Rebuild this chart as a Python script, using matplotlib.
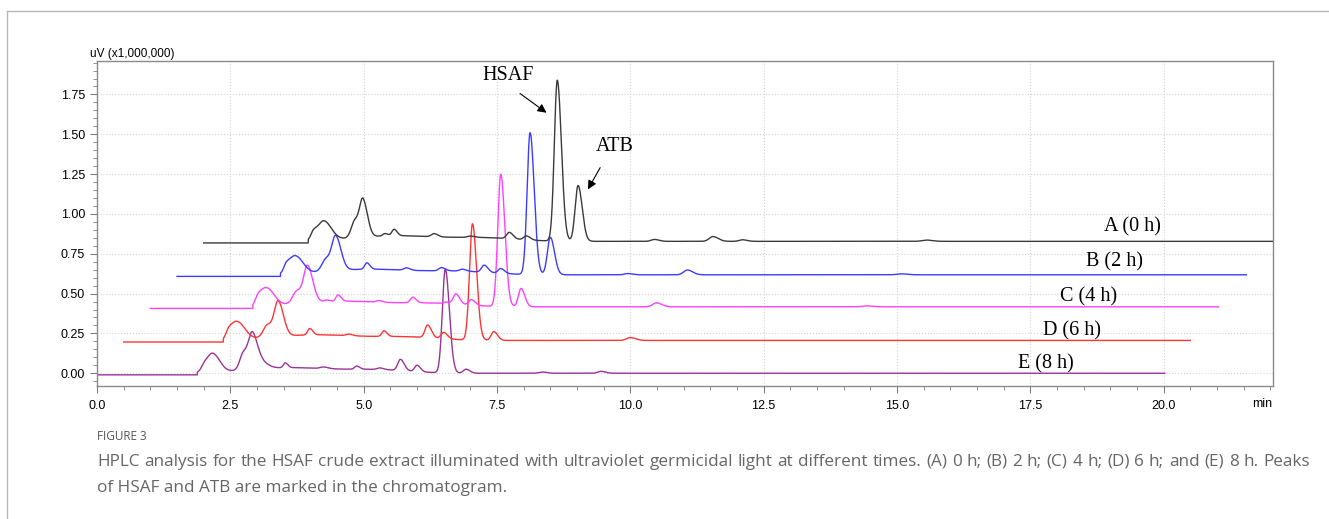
import numpy as np
import matplotlib.pyplot as plt
from matplotlib.lines import Line2D
from matplotlib.ticker import MultipleLocator, FormatStrFormatter

# traces, top to bottom: A (0 h) ... E (8 h)
labels = ["A (0 h)", "B (2 h)", "C (4 h)", "D (6 h)", "E (8 h)"]
colors = ["#3a3a3a", "#3c3cff", "#ff40ff", "#ff3434", "#993399"]
starts = [2.0, 1.5, 1.0, 0.5, 0.0]        # min, where each trace begins
ends = [22.3, 21.55, 21.03, 20.5, 20.02]
fronts = [3.96, 3.44, 2.92, 2.37, 1.88]   # solvent front
bases = [0.818, 0.608, 0.407, 0.196, -0.01]

# peaks: (retention time, height above start level, width)
peaks_a = [(4.06, 0.05, 0.05), (4.25, 0.12, 0.1), (4.84, 0.11, 0.07), (4.99, 0.21, 0.06),
           (5.4, 0.015, 0.04), (5.57, 0.04, 0.04), (6.32, 0.02, 0.05), (7.0, 0.008, 0.05),
           (7.73, 0.04, 0.05), (8.05, 0.025, 0.05), (8.63, 1.01, 0.055), (9.02, 0.35, 0.055),
           (10.45, 0.012, 0.06), (11.55, 0.03, 0.07), (12.1, 0.01, 0.06), (15.55, 0.008, 0.08)]
peaks_b = [(3.55, 0.05, 0.05), (3.72, 0.11, 0.1), (4.3, 0.08, 0.08), (4.48, 0.2, 0.07),
           (5.06, 0.04, 0.04), (5.8, 0.015, 0.05), (6.46, 0.02, 0.05), (6.85, 0.012, 0.05),
           (7.26, 0.045, 0.05), (7.57, 0.03, 0.05), (8.12, 0.89, 0.055), (8.5, 0.235, 0.055),
           (9.95, 0.008, 0.06), (11.07, 0.03, 0.07), (15.08, 0.006, 0.08)]
peaks_c = [(3.02, 0.05, 0.05), (3.18, 0.11, 0.1), (3.75, 0.08, 0.08), (3.95, 0.22, 0.07),
           (4.3, 0.01, 0.04), (4.52, 0.04, 0.04), (5.28, 0.01, 0.05), (5.92, 0.035, 0.045),
           (6.55, 0.01, 0.05), (6.73, 0.065, 0.05), (7.02, 0.035, 0.05), (7.57, 0.83, 0.055),
           (7.95, 0.115, 0.05), (10.49, 0.025, 0.07), (14.43, 0.006, 0.08)]
peaks_d = [(2.47, 0.05, 0.05), (2.63, 0.11, 0.1), (3.2, 0.08, 0.08), (3.4, 0.21, 0.07),
           (3.99, 0.04, 0.04), (4.72, 0.01, 0.05), (5.38, 0.035, 0.04), (6.2, 0.08, 0.05),
           (6.5, 0.04, 0.05), (7.04, 0.73, 0.055), (7.44, 0.055, 0.05), (10.0, 0.018, 0.07)]
peaks_e = [(2.02, 0.05, 0.06), (2.18, 0.11, 0.09), (2.75, 0.11, 0.07), (2.92, 0.21, 0.07),
           (3.12, 0.03, 0.08), (3.53, 0.03, 0.035), (4.25, 0.01, 0.06), (4.87, 0.02, 0.04),
           (5.3, 0.01, 0.05), (5.69, 0.07, 0.05), (6.0, 0.04, 0.045), (6.53, 0.65, 0.055),
           (6.92, 0.025, 0.05), (8.35, 0.008, 0.06), (9.45, 0.012, 0.06)]
all_peaks = [peaks_a, peaks_b, peaks_c, peaks_d, peaks_e]

# broad raised baseline after the front: (centre, height, width)
humps_a = [(5.6, 0.035, 0.8), (7.3, 0.02, 0.6)]
humps_b = [(5.1, 0.035, 0.8), (6.8, 0.02, 0.6)]
humps_c = [(4.6, 0.035, 0.8), (6.3, 0.02, 0.6)]
humps_d = [(4.1, 0.035, 0.8), (5.8, 0.02, 0.6)]
humps_e = [(3.6, 0.035, 0.8), (5.3, 0.02, 0.6)]
all_humps = [humps_a, humps_b, humps_c, humps_d, humps_e]
offset_after_front = 0.01
tail = 1.4

caption_1 = ("HPLC analysis for the HSAF crude extract illuminated with ultraviolet germicidal light "
             "at different times. (A) 0 h; (B) 2 h; (C) 4 h; (D) 6 h; and (E) 8 h. Peaks")
caption_2 = "of HSAF and ATB are marked in the chromatogram."


def peak(t, rt, h, w):
    s = np.where(t < rt, w, w * tail)
    return h * np.exp(-(t - rt) ** 2 / (2 * s ** 2))


fig = plt.figure(figsize=(13.29, 5.19), dpi=100)
ax = fig.add_axes([97 / 1329, 1 - 386 / 519, (1273 - 97) / 1329, (386 - 61) / 519])

for i in range(5):
    t = np.linspace(starts[i], ends[i], 6000)
    y = np.zeros_like(t)
    for rt, h, w in all_peaks[i]:
        y += peak(t, rt, h, w)
    for c, h, w in all_humps[i]:
        y += h * np.exp(-(t - c) ** 2 / (2 * w ** 2))
    y += offset_after_front
    y[t < fronts[i]] = 0
    ax.plot(t, y + bases[i], color=colors[i], lw=1.0, zorder=5 - i)

ax.set_xlim(0, 22.05)
ax.set_ylim(-0.08, 1.96)
ax.xaxis.set_major_locator(MultipleLocator(2.5))
ax.xaxis.set_minor_locator(MultipleLocator(0.5))
ax.yaxis.set_major_locator(MultipleLocator(0.25))
ax.yaxis.set_minor_locator(MultipleLocator(0.05))
ax.xaxis.set_major_formatter(FormatStrFormatter("%.1f"))
ax.yaxis.set_major_formatter(FormatStrFormatter("%.2f"))
ax.set_xticks(np.arange(0, 20.1, 2.5))
ax.tick_params(which="both", direction="out", color="#808080", labelsize=9,
               labelfontfamily="Liberation Sans")
ax.tick_params(which="major", length=5)
ax.tick_params(which="minor", length=3)
ax.tick_params(axis="x", pad=5)
ax.tick_params(axis="y", pad=3.5)
ax.grid(True, which="major", color="#d4d4d4", ls=":", lw=0.8)
ax.set_axisbelow(True)
for sp in ax.spines.values():
    sp.set_color("#8a8a8a")
    sp.set_linewidth(1)

fig.text(90 / 1329, 1 - 54 / 519, "uV (x1,000,000)", fontsize=8.5, family="Liberation Sans",
         va="center", ha="left")
fig.text(1262 / 1329, 1 - 404 / 519, "min", fontsize=9, family="Liberation Sans",
         va="center", ha="center")

# trace labels
lab_x = [19.42, 19.08, 18.6, 18.28, 17.8]
lab_y = [0.917, 0.70, 0.48, 0.265, 0.06]
for i in range(5):
    ax.text(lab_x[i], lab_y[i], labels[i], family="Liberation Serif", fontsize=14.5,
            ha="center", va="center")

ax.text(7.70, 1.871, "HSAF", family="Liberation Serif", fontsize=14.5, ha="center", va="center")
ax.annotate("", xy=(8.47, 1.625), xytext=(7.89, 1.766),
            arrowprops=dict(arrowstyle="-|>", color="black", lw=0.8, mutation_scale=13))
ax.text(9.71, 1.421, "ATB", family="Liberation Serif", fontsize=14.5, ha="center", va="center")
ax.annotate("", xy=(9.18, 1.139), xytext=(9.46, 1.306),
            arrowprops=dict(arrowstyle="-|>", color="black", lw=0.8, mutation_scale=13))

# outer frame
fig.add_artist(Line2D([7 / 1329, 7 / 1329], [0, 1 - 11 / 519], transform=fig.transFigure,
                      color="#b8b8b8", lw=1))
fig.add_artist(Line2D([7 / 1329, 1], [1 - 11 / 519, 1 - 11 / 519], transform=fig.transFigure,
                      color="#b8b8b8", lw=1))

fig.text(97 / 1329, 1 - 437 / 519, "FIGURE 3", fontsize=8.5, color="#555555",
         family="Open Sans", va="center")

# first caption line is justified between x=97 and x=1310 px
cap_style = dict(fontsize=12.3, color="#666666", family="Open Sans", va="center")
renderer = fig.canvas.get_renderer()
words = caption_1.split()
texts = [fig.text(0, 1 - 462 / 519, w, **cap_style) for w in words]
widths = [tx.get_window_extent(renderer).width for tx in texts]
gap = (1310 - 97 - sum(widths)) / (len(words) - 1)
x = 97.0
for tx, w in zip(texts, widths):
    tx.set_x(x / 1329)
    x += w + gap
fig.text(97 / 1329, 1 - 488 / 519, caption_2, **cap_style)

fig.savefig("out.png", dpi=100)
